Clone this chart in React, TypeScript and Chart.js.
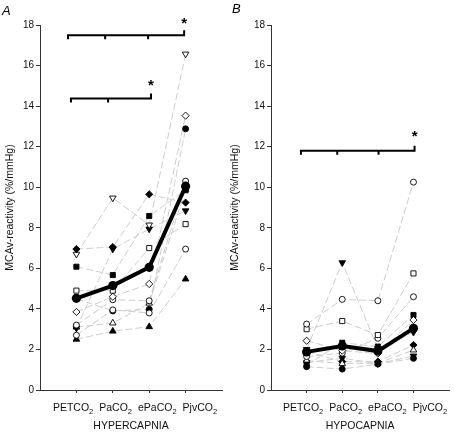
import React, { useEffect, useRef } from "react";
import { Chart, registerables } from "chart.js";
Chart.register(...registerables);

const FONT = "'Liberation Sans', Arial, Helvetica, sans-serif";

// ---------- data ----------
const categories = ["PETCO₂", "PaCO₂", "ePaCO₂", "PjvCO₂"];
const panelLabels = ["A", "B"];
const xTitles = ["HYPERCAPNIA", "HYPOCAPNIA"];
const yTitle = "MCAv-reactivity (%/mmHg)";
const yTickValues = [0, 2, 4, 6, 8, 10, 12, 14, 16, 18];

// Panel A: hypercapnia
const meanHyper = [4.52, 5.15, 6.05, 10.05];
const hyperS1 = [6.95, 7.05, 9.65, 9.24];
const hyperS2 = [6.7, 9.47, 8.14, 16.57];
const hyperS3 = [6.08, 5.67, 8.58, 9.85];
const hyperS4 = [4.9, 4.9, 7.0, 8.18];
const hyperS5 = [3.85, 4.6, 5.23, 13.53];
const hyperS6 = [3.2, 4.45, 4.4, 10.3];
const hyperS7 = [3.05, 6.95, 7.94, 8.84];
const hyperS8 = [2.7, 3.95, 3.8, 6.95];
const hyperS9 = [2.5, 2.9, 3.12, 5.47];
const hyperS10 = [4.5, 3.9, 3.98, 12.88];
const hyperS11 = [3.1, 3.3, 4.28, 9.9];

// Panel B: hypocapnia
const meanHypo = [1.88, 2.17, 1.92, 3.04];
const hypoS1 = [3.25, 4.47, 4.4, 10.25];
const hypoS2 = [3.0, 3.4, 2.71, 5.75];
const hypoS3 = [2.43, 1.94, 1.8, 3.45];
const hypoS4 = [2.0, 6.28, 2.05, 2.85];
const hypoS5 = [1.65, 1.82, 2.55, 4.6];
const hypoS6 = [1.25, 2.33, 2.14, 3.7];
const hypoS7 = [1.15, 1.03, 1.28, 1.56];
const hypoS8 = [1.45, 1.3, 1.32, 1.97];
const hypoS9 = [1.9, 1.4, 1.4, 2.22];
const hypoS10 = [1.35, 1.57, 1.3, 1.68];

// significance brackets (in data units)
const bracketsHyper = [
  { level: 17.5, from: 0.77, drops: [1.79, 2.97], to: 3.96, star: 18.3 },
  { level: 14.38, from: 0.85, drops: [1.87], to: 3.05, star: 15.2 },
];
const bracketsHypo = [
  { level: 11.8, from: 0.84, drops: [1.86, 3.02], to: 4.03, star: 12.7 },
];

// ---------- marker styles ----------
type Marker = { shape: string; filled: boolean; rot?: number };
const FD: Marker = { shape: "rectRot", filled: true };
const OD: Marker = { shape: "rectRot", filled: false };
const FS: Marker = { shape: "rect", filled: true };
const OS: Marker = { shape: "rect", filled: false };
const FC: Marker = { shape: "circle", filled: true };
const OC: Marker = { shape: "circle", filled: false };
const FT: Marker = { shape: "triangle", filled: true };
const OT: Marker = { shape: "triangle", filled: false };
const FIT: Marker = { shape: "triangle", filled: true, rot: 180 };
const OIT: Marker = { shape: "triangle", filled: false, rot: 180 };

const RADIUS: Record<string, number> = { circle: 3, rect: 3.6, rectRot: 3.6, triangle: 3.8 };

type Panel = {
  key: string;
  label: string;
  xTitle: string;
  mean: number[];
  subjects: number[][];
  markers: Marker[];
  brackets: { level: number; from: number; drops: number[]; to: number; star: number }[];
  yAxisWidth: number;
  rightPad: number;
  yTitlePad: number;
  labelShift: number;
  panelLabelX: number;
  panelLabelY: number;
};

const panels: Panel[] = [
  {
    key: "A",
    label: panelLabels[0],
    xTitle: xTitles[0],
    mean: meanHyper,
    subjects: [hyperS1, hyperS2, hyperS3, hyperS4, hyperS5, hyperS6, hyperS7, hyperS8, hyperS9, hyperS10, hyperS11],
    markers: [FD, OIT, FS, OS, OD, OC, FIT, OC, FT, FC, OT],
    brackets: bracketsHyper,
    yAxisWidth: 40,
    rightPad: 5,
    yTitlePad: 3.5,
    labelShift: 4,
    panelLabelX: 2,
    panelLabelY: 15,
  },
  {
    key: "B",
    label: panelLabels[1],
    xTitle: xTitles[1],
    mean: meanHypo,
    subjects: [hypoS1, hypoS2, hypoS3, hypoS4, hypoS5, hypoS6, hypoS7, hypoS8, hypoS9, hypoS10],
    markers: [OC, OS, OD, FIT, OC, FS, FC, OT, FD, FIT],
    brackets: bracketsHypo,
    yAxisWidth: 44,
    rightPad: 1,
    yTitlePad: 1.7,
    labelShift: 5,
    panelLabelX: 5,
    panelLabelY: 13,
  },
];

const pts = (arr: number[]) => arr.map((y, i) => ({ x: i + 1, y }));

function overlayPlugin(p: Panel) {
  return {
    id: "overlay" + p.key,
    afterDraw(chart: any) {
      const { ctx, chartArea } = chart;
      const x = chart.scales.x;
      const y = chart.scales.y;
      ctx.save();
      // brackets
      ctx.strokeStyle = "#000";
      ctx.fillStyle = "#000";
      ctx.lineWidth = 2;
      ctx.lineCap = "butt";
      ctx.lineJoin = "miter";
      p.brackets.forEach((b) => {
        const yp = y.getPixelForValue(b.level);
        const x0 = x.getPixelForValue(b.from);
        const x1 = x.getPixelForValue(b.to);
        ctx.beginPath();
        ctx.moveTo(x0, yp + 4);
        ctx.lineTo(x0, yp);
        ctx.lineTo(x1, yp);
        ctx.lineTo(x1, yp - 5);
        b.drops.forEach((d) => {
          const xd = x.getPixelForValue(d);
          ctx.moveTo(xd, yp);
          ctx.lineTo(xd, yp + 4);
        });
        ctx.stroke();
        ctx.font = `bold 15px ${FONT}`;
        ctx.textAlign = "center";
        ctx.textBaseline = "alphabetic";
        ctx.fillText("*", x1, y.getPixelForValue(b.star) + 8.6);
      });
      // category labels with subscripts
      const mainSize = 10.5;
      const subSize = 7.5;
      const gap = 6;
      const parts = categories.map((c) => {
        const hasSub = c.endsWith("₂");
        const base = hasSub ? c.slice(0, -1) : c;
        ctx.font = `${mainSize}px ${FONT}`;
        const wb = ctx.measureText(base).width;
        ctx.font = `${subSize}px ${FONT}`;
        const ws = hasSub ? ctx.measureText("2").width : 0;
        return { base, hasSub, wb, ws };
      });
      const total = parts.reduce((s, q) => s + q.wb + q.ws, 0) + gap * (parts.length - 1);
      let cx = (chartArea.left + chartArea.right) / 2 + p.labelShift - total / 2;
      const baseY = chartArea.bottom + 21;
      ctx.fillStyle = "#111";
      ctx.textAlign = "left";
      ctx.textBaseline = "alphabetic";
      parts.forEach((q) => {
        ctx.font = `${mainSize}px ${FONT}`;
        ctx.fillText(q.base, cx, baseY);
        cx += q.wb;
        if (q.hasSub) {
          ctx.font = `${subSize}px ${FONT}`;
          ctx.fillText("2", cx, baseY + 2.5);
          cx += q.ws;
        }
        cx += gap;
      });
      // panel label
      ctx.fillStyle = "#000";
      ctx.font = `italic 13px ${FONT}`;
      ctx.fillText(p.label, p.panelLabelX, p.panelLabelY);
      ctx.restore();
    },
  };
}

function makeConfig(p: Panel): any {
  const datasets: any[] = [];
  datasets.push({
    label: "mean",
    data: pts(p.mean),
    borderColor: "#000",
    borderWidth: 4,
    pointRadius: 4.6,
    pointBackgroundColor: "#000",
    pointBorderColor: "#000",
    pointBorderWidth: 0,
    order: 0,
  });
  p.subjects.forEach((s, k) => {
    const m = p.markers[k];
    datasets.push({
      label: "m" + k,
      data: pts(s),
      showLine: false,
      pointStyle: m.shape,
      pointRotation: m.rot || 0,
      pointRadius: RADIUS[m.shape],
      pointBackgroundColor: m.filled ? "#000" : "#fff",
      pointBorderColor: "#000",
      pointBorderWidth: 0.9,
      order: 10,
    });
    datasets.push({
      label: "l" + k,
      data: pts(s),
      borderColor: "#cdcdcd",
      borderWidth: 1,
      borderDash: [7, 3],
      pointRadius: 0,
      order: 20,
    });
  });
  return {
    type: "line",
    data: { datasets },
    options: {
      responsive: false,
      animation: false,
      events: [],
      layout: { padding: { top: 25, right: p.rightPad, bottom: 0, left: 0 } },
      plugins: { legend: { display: false }, tooltip: { enabled: false } },
      scales: {
        x: {
          type: "linear",
          min: 0,
          max: 5,
          afterBuildTicks: (s: any) => {
            s.ticks = categories.map((_, i) => ({ value: i + 1 }));
          },
          afterFit: (s: any) => {
            s.height = 43;
          },
          ticks: { callback: () => "", padding: 0, font: { size: 1 } },
          grid: { drawOnChartArea: false, tickLength: 3, color: "#333", lineWidth: 1 },
          border: { color: "#333", width: 1 },
          title: {
            display: true,
            text: p.xTitle,
            color: "#111",
            font: { family: FONT, size: 10.5 },
            padding: { top: 0, bottom: 0.7 },
          },
        },
        y: {
          type: "linear",
          min: 0,
          max: 18,
          afterBuildTicks: (s: any) => {
            s.ticks = yTickValues.map((v) => ({ value: v }));
          },
          afterFit: (s: any) => {
            s.width = p.yAxisWidth;
          },
          ticks: { color: "#111", font: { family: FONT, size: 10 }, padding: 2 },
          grid: { drawOnChartArea: false, tickLength: 4, color: "#333" },
          border: { color: "#333", width: 1 },
          title: {
            display: true,
            text: yTitle,
            color: "#111",
            font: { family: FONT, size: 10.5 },
            padding: { top: p.yTitlePad, bottom: 0 },
          },
        },
      },
    },
    plugins: [overlayPlugin(p)],
  };
}

function PanelChart({ p, left }: { p: Panel; left: number }) {
  const ref = useRef<HTMLCanvasElement | null>(null);
  useEffect(() => {
    if (!ref.current) return;
    const chart = new Chart(ref.current, makeConfig(p));
    return () => chart.destroy();
  }, [p]);
  return (
    <canvas
      ref={ref}
      width={227}
      height={433}
      style={{ position: "absolute", left, top: 0, width: 227, height: 433 }}
    />
  );
}

export default function App() {
  return (
    <div
      style={{
        position: "absolute",
        left: 0,
        top: 0,
        width: 454,
        height: 433,
        background: "#fff",
        overflow: "hidden",
      }}
    >
      <PanelChart p={panels[0]} left={0} />
      <PanelChart p={panels[1]} left={227} />
    </div>
  );
}
